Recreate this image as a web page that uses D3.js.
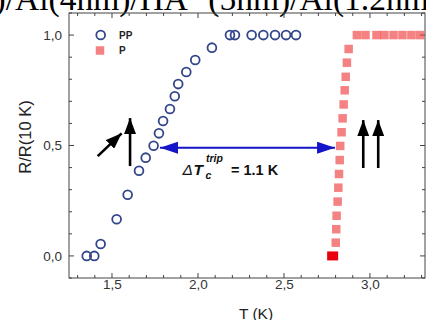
<!DOCTYPE html>
<html>
<head>
<meta charset="utf-8">
<script src="https://cdn.jsdelivr.net/npm/d3@7"></script>
<style>
  html, body { margin: 0; padding: 0; background: #fff; overflow: hidden; }
  svg { display: block; }
</style>
</head>
<body>
<svg id="chart" width="426" height="320"></svg>
<script>
// Normalised resistance R/R(10 K) versus temperature for the two spin configurations
const ppT = [1.353, 1.397, 1.434, 1.527, 1.591, 1.657, 1.696, 1.742, 1.773, 1.797, 1.837, 1.865, 1.885, 1.932, 1.984, 2.081, 2.186, 2.215, 2.312, 2.380, 2.448, 2.512, 2.570];
const ppR = [0.000, 0.000, 0.054, 0.166, 0.277, 0.386, 0.445, 0.499, 0.555, 0.611, 0.665, 0.723, 0.778, 0.833, 0.887, 0.943, 1.000, 1.000, 1.000, 1.000, 1.000, 1.000, 1.000];

const pT = [2.801, 2.804, 2.806, 2.812, 2.816, 2.820, 2.824, 2.827, 2.835, 2.841, 2.847, 2.853, 2.859, 2.866, 2.876, 2.924, 2.974, 3.038, 3.084, 3.137, 3.189, 3.241, 3.291];
const pR = [0.060, 0.121, 0.182, 0.246, 0.309, 0.371, 0.434, 0.498, 0.560, 0.623, 0.686, 0.750, 0.811, 0.875, 0.937, 1.000, 1.000, 1.000, 1.000, 1.000, 1.000, 1.000, 1.000];
// first point of P (highlighted)
const pStartT = [2.783];
const pStartR = [0.000];

const xTicks = [1.5, 2.0, 2.5, 3.0];
const yTicks = [0.0, 0.5, 1.0];
const legendNames = ["PP", "P"];

// Annotations: triplet Tc shift and the magnetisation arrows
const deltaArrowT = [1.779, 2.797];
const deltaArrowR = 0.49;
const arrowsLeft = [{ t0: 1.417, r0: 0.452, t1: 1.556, r1: 0.555 }, { t0: 1.605, r0: 0.407, t1: 1.605, r1: 0.624 }];
const arrowsRight = [{ t0: 2.961, r0: 0.398, t1: 2.961, r1: 0.615 }, { t0: 3.048, r0: 0.398, t1: 3.048, r1: 0.615 }];

const svg = d3.select("#chart");
const mLeft = 69, mRight = 425, mTop = 13, mBottom = 278;

const x = d3.scaleLinear().domain([1.25, 3.32]).range([mLeft, mRight]);
const y = d3.scaleLinear().domain([-0.1, 1.1]).range([mBottom, mTop]);

const fmt = d => d3.format(".1f")(d).replace(".", ",");
const axisColor = "#444";

// sample stack heading above the plot
const title = svg.append("text")
  .attr("x", -14.8).attr("y", 10)
  .attr("font-family", "'Liberation Serif', 'Times New Roman', serif")
  .attr("font-size", 33.5)
  .attr("fill", "#000");
title.append("tspan").text("l)/Al(4nm)/HA");
title.append("tspan").attr("font-size", 21).attr("dy", -14).text("\u2212");
title.append("tspan").attr("dy", 14).text(" (5nm)/Al(1.2nm)");

// frame
svg.append("rect")
  .attr("x", mLeft).attr("y", mTop)
  .attr("width", mRight - mLeft).attr("height", mBottom - mTop)
  .attr("fill", "none").attr("stroke", axisColor).attr("stroke-width", 1);

// tick marks drawn inward on all four sides
const xMinor = d3.range(13, 34).map(v => v / 10).filter(v => v >= 1.25 && v <= 3.32);
const yMinor = d3.range(-1, 12).map(v => v / 10);
const isMajor = (v, arr) => arr.some(a => Math.abs(a - v) < 1e-6);

const gB = svg.append("g").attr("transform", `translate(0,${mBottom})`);
xMinor.forEach(v => {
  const len = isMajor(v, xTicks) ? 5 : 3;
  gB.append("line").attr("x1", x(v)).attr("x2", x(v)).attr("y1", 0).attr("y2", -len)
    .attr("stroke", axisColor);
});
const gT = svg.append("g").attr("transform", `translate(0,${mTop})`);
xMinor.forEach(v => {
  const len = isMajor(v, xTicks) ? 5 : 3;
  gT.append("line").attr("x1", x(v)).attr("x2", x(v)).attr("y1", 0).attr("y2", len)
    .attr("stroke", axisColor);
});
const gL = svg.append("g").attr("transform", `translate(${mLeft},0)`);
yMinor.forEach(v => {
  const len = isMajor(v, yTicks) ? 5 : 3;
  gL.append("line").attr("y1", y(v)).attr("y2", y(v)).attr("x1", 0).attr("x2", len)
    .attr("stroke", axisColor);
});
const gR = svg.append("g").attr("transform", `translate(${mRight},0)`);
yMinor.forEach(v => {
  const len = isMajor(v, yTicks) ? 5 : 3;
  gR.append("line").attr("y1", y(v)).attr("y2", y(v)).attr("x1", 0).attr("x2", -len)
    .attr("stroke", axisColor);
});

// tick labels via d3 axes
const xAxis = d3.axisBottom(x).tickValues(xTicks).tickFormat(fmt).tickSize(0).tickPadding(0);
svg.append("g").attr("transform", `translate(0,${mBottom + 11})`).call(xAxis)
  .call(g => g.select(".domain").remove())
  .call(g => g.selectAll("text").attr("dy", 0)
    .attr("font-family", "Arial, 'Liberation Sans', sans-serif")
    .attr("font-size", 13.5).attr("fill", "#333"));

const yAxis = d3.axisLeft(y).tickValues(yTicks).tickFormat(fmt).tickSize(0).tickPadding(0);
svg.append("g").attr("transform", `translate(${mLeft - 7},0)`).call(yAxis)
  .call(g => g.select(".domain").remove())
  .call(g => g.selectAll("text")
    .attr("font-family", "Arial, 'Liberation Sans', sans-serif")
    .attr("font-size", 13.5).attr("fill", "#333"));

// axis titles
svg.append("text")
  .attr("x", 256).attr("y", 318.5).attr("text-anchor", "middle")
  .attr("font-family", "Arial, 'Liberation Sans', sans-serif")
  .attr("font-size", 15.5).attr("fill", "#222")
  .text("T (K)");
svg.append("text")
  .attr("transform", "translate(31,137) rotate(-90)")
  .attr("text-anchor", "middle")
  .attr("font-family", "Arial, 'Liberation Sans', sans-serif")
  .attr("font-size", 16.5).attr("fill", "#222")
  .text("R/R(10 K)");

const plot = svg.append("g");

// P: squares, translucent so overlaps darken
const sq = 8.5;
const pData = pT.map((t, i) => ({ t, r: pR[i] }));
plot.selectAll("rect.p").data(pData).enter().append("rect")
  .attr("class", "p")
  .attr("x", d => x(d.t) - sq / 2).attr("y", d => y(d.r) - sq / 2)
  .attr("width", sq).attr("height", sq)
  .attr("fill", "#f03c3c").attr("fill-opacity", 0.64);
plot.selectAll("rect.p0").data(pStartT.map((t, i) => ({ t, r: pStartR[i] }))).enter().append("rect")
  .attr("class", "p0")
  .attr("x", d => x(d.t) - 5.5).attr("y", d => y(d.r) - 4.5)
  .attr("width", 11).attr("height", 9)
  .attr("fill", "#e8000a");

// PP: open circles
const ppData = ppT.map((t, i) => ({ t, r: ppR[i] }));
plot.selectAll("circle.pp").data(ppData).enter().append("circle")
  .attr("class", "pp")
  .attr("cx", d => x(d.t)).attr("cy", d => y(d.r)).attr("r", 4.4)
  .attr("fill", "none").attr("stroke", "#34468a").attr("stroke-width", 1.8);

// legend
const lg = svg.append("g");
lg.append("circle").attr("cx", 100.7).attr("cy", 35).attr("r", 4.4)
  .attr("fill", "none").attr("stroke", "#34468a").attr("stroke-width", 1.8);
lg.append("rect").attr("x", 100 - sq / 2).attr("y", 50.5 - sq / 2).attr("width", sq).attr("height", sq)
  .attr("fill", "#f03c3c").attr("fill-opacity", 0.64);
lg.selectAll("text").data(legendNames).enter().append("text")
  .attr("x", 119).attr("y", (d, i) => 39 + i * 14.5)
  .attr("font-family", "Arial, 'Liberation Sans', sans-serif")
  .attr("font-weight", "bold").attr("font-size", 10).attr("fill", "#222")
  .text(d => d);

// arrowhead markers
const defs = svg.append("defs");
defs.append("marker").attr("id", "blueHead")
  .attr("viewBox", "0 0 18 12").attr("refX", 18).attr("refY", 6)
  .attr("markerUnits", "userSpaceOnUse").attr("markerWidth", 18).attr("markerHeight", 12)
  .attr("orient", "auto-start-reverse")
  .append("path").attr("d", "M0,0 L18,6 L0,12 Z").attr("fill", "#1414c8");
defs.append("marker").attr("id", "blackHead")
  .attr("viewBox", "0 0 16 12").attr("refX", 16).attr("refY", 6)
  .attr("markerUnits", "userSpaceOnUse").attr("markerWidth", 16).attr("markerHeight", 12)
  .attr("orient", "auto")
  .append("path").attr("d", "M0,0 L16,6 L0,12 Z").attr("fill", "#000");

// ΔTc arrow
plot.append("line")
  .attr("x1", x(deltaArrowT[0])).attr("x2", x(deltaArrowT[1]))
  .attr("y1", y(deltaArrowR)).attr("y2", y(deltaArrowR))
  .attr("stroke", "#1414c8").attr("stroke-width", 2)
  .attr("marker-start", "url(#blueHead)").attr("marker-end", "url(#blueHead)");

// magnetisation arrows
plot.selectAll("line.mag").data(arrowsLeft.concat(arrowsRight)).enter().append("line")
  .attr("class", "mag")
  .attr("x1", d => x(d.t0)).attr("y1", d => y(d.r0))
  .attr("x2", d => x(d.t1)).attr("y2", d => y(d.r1))
  .attr("stroke", "#000").attr("stroke-width", 2.6)
  .attr("marker-end", "url(#blackHead)");

// ΔTc label
const lab = svg.append("g")
  .attr("font-family", "Arial, 'Liberation Sans', sans-serif")
  .attr("fill", "#111");
lab.append("text").attr("x", 182.5).attr("y", 175).attr("font-size", 15.5)
  .attr("font-style", "italic").text("\u0394");
lab.append("text").attr("x", 193.5).attr("y", 175).attr("font-size", 15.5)
  .attr("font-style", "italic").attr("font-weight", "bold").text("T");
lab.append("text").attr("x", 205.5).attr("y", 179).attr("font-size", 10.5)
  .attr("font-style", "italic").attr("font-weight", "bold").text("c");
lab.append("text").attr("x", 206).attr("y", 161.5).attr("font-size", 10.5)
  .attr("font-style", "italic").attr("font-weight", "bold").text("trip");
lab.append("text").attr("x", 231).attr("y", 174.5).attr("font-size", 14.5)
  .attr("font-weight", "bold").text("= 1.1 K");
</script>
</body>
</html>
